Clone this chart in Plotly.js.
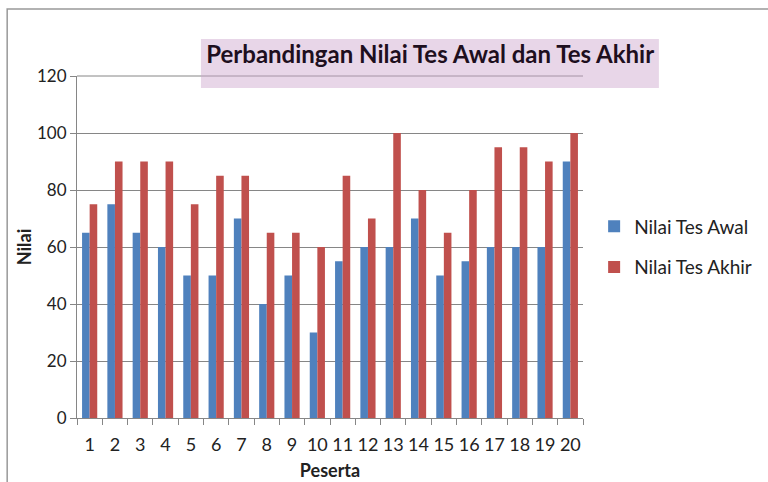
<!DOCTYPE html>
<html><head><meta charset="utf-8">
<script src="https://cdn.plot.ly/plotly-3.0.1.min.js"></script>
<style>html,body{margin:0;padding:0;background:#fff}#c{width:768px;height:482px}</style>
</head><body><div id="c"></div>
<script>
const peserta = ["1","2","3","4","5","6","7","8","9","10","11","12","13","14","15","16","17","18","19","20"];
const nilaiAwal = [65,75,65,60,50,50,70,40,50,30,55,60,60,70,50,55,60,60,60,90];
const nilaiAkhir = [75,90,90,90,75,85,85,65,65,60,85,70,100,80,65,80,95,95,90,100];
const seriesNames = ["Nilai Tes Awal","Nilai Tes Akhir"];
const fontFam = "Lato, Open Sans, sans-serif";

const traces = [
  {type:"bar", x:peserta, y:nilaiAwal, name:seriesNames[0], marker:{color:"#4F81BD"}, legendgroup:"a"},
  {type:"bar", x:peserta, y:nilaiAkhir, name:seriesNames[1], marker:{color:"#C0504D"}, legendgroup:"b"}
];
const layout = {
  width:768, height:482,
  margin:{l:77, r:185, t:76, b:64, autoexpand:false},
  paper_bgcolor:"#fff", plot_bgcolor:"#fff",
  font:{family:fontFam, color:"#222", size:17},
  barmode:"group", bargap:0.4, bargroupgap:0,
  title:{text:"Perbandingan Nilai Tes Awal dan Tes Akhir", font:{size:24, color:"#1e0f1e", family:fontFam, weight:"bold"},
         xref:"paper", x:0.698, xanchor:"center", yref:"container", y:0.886, yanchor:"middle"},
  xaxis:{type:"category", tickson:"boundaries", ticks:"outside", ticklen:6, tickcolor:"#868686", tickangle:0,
         ticklabelstandoff:10, automargin:false,
         showline:true, linecolor:"#868686", linewidth:1, showgrid:false,
         tickfont:{size:18}, title:{text:"Peserta", font:{size:18, weight:"bold"}, standoff:10}},
  yaxis:{range:[0,120], dtick:20, ticks:"outside", ticklen:6, tickcolor:"#868686", automargin:false,
         showline:true, linecolor:"#868686", linewidth:1, gridcolor:"#868686", gridwidth:1,
         zeroline:false, tickfont:{size:17},
         title:{text:"Nilai", font:{size:18, weight:"bold"}, standoff:0}},
  legend:{x:1.022, y:0.50, xanchor:"left", yanchor:"middle", font:{size:19}, traceorder:"grouped", tracegroupgap:13, itemwidth:30},
  shapes:[
    {type:"line", xref:"paper", yref:"paper", x0:0, x1:1, y0:1, y1:1, line:{color:"#868686", width:1}, layer:"below"},
    {type:"rect", xref:"paper", yref:"paper", x0:0.245, x1:1.150, y0:0.965, y1:1.108,
     fillcolor:"rgba(205,165,205,0.45)", line:{width:0}, layer:"above"},
    {type:"path", xref:"paper", yref:"paper", path:"M -0.138,-0.2 L -0.138,1.196 L 1.4,1.196",
     line:{color:"#999", width:1.5}}
  ]
};
Plotly.newPlot("c", traces, layout, {displayModeBar:false});
</script></body></html>
